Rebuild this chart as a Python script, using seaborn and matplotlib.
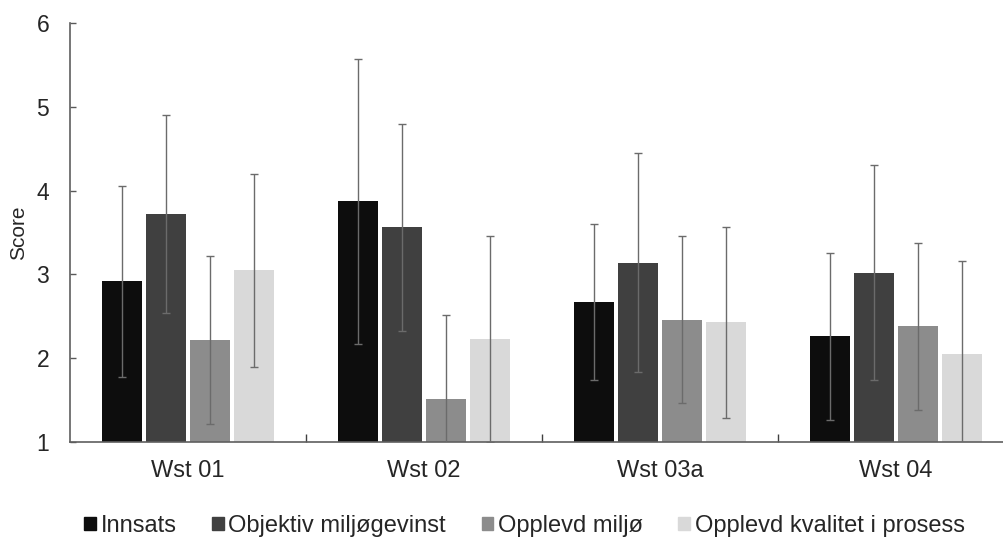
import matplotlib
matplotlib.use("Agg")
import matplotlib.pyplot as plt
import matplotlib.patches as mpatches
import numpy as np
import pandas as pd
import seaborn as sns

# Mean score and standard deviation per workshop and dimension
categories = ["Wst 01", "Wst 02", "Wst 03a", "Wst 04"]
series = ["Innsats", "Objektiv miljøgevinst", "Opplevd miljø", "Opplevd kvalitet i prosess"]

innsats = [2.92, 3.87, 2.67, 2.26]
innsats_sd = [1.14, 1.70, 0.93, 1.00]
objektiv = [3.72, 3.56, 3.14, 3.02]
objektiv_sd = [1.18, 1.24, 1.31, 1.28]
miljo = [2.22, 1.51, 2.46, 2.38]
miljo_sd = [1.00, 1.00, 1.00, 1.00]
kvalitet = [3.05, 2.23, 2.43, 2.05]
kvalitet_sd = [1.15, 1.23, 1.14, 1.11]

yticks = [1, 2, 3, 4, 5, 6]
colors = ["#0d0d0d", "#404040", "#8c8c8c", "#d9d9d9"]

means = [innsats, objektiv, miljo, kvalitet]
sds = [innsats_sd, objektiv_sd, miljo_sd, kvalitet_sd]

rows = []
for name, m, s in zip(series, means, sds):
    for cat, mv, sv in zip(categories, m, s):
        rows.append({"Workshop": cat, "Dimensjon": name, "Score": mv, "SD": sv})
df = pd.DataFrame(rows)

sns.set_style("white")
plt.rcParams["font.family"] = ["Liberation Sans", "DejaVu Sans"]

fig = plt.figure(figsize=(10.04, 5.38), dpi=100)
ax = fig.add_axes([70 / 1004, 96 / 538, 944 / 1004, 419 / 538])

sns.barplot(
    data=df, x="Workshop", y="Score", hue="Dimensjon",
    order=categories, hue_order=series, palette=colors,
    width=0.746, gap=0.09, errorbar=None, linewidth=0, ax=ax,
)

# Error bars (± one standard deviation) centred on each bar
err_color = "#6b6b6b"
bar_containers = list(ax.containers)
for h_idx, cont in enumerate(bar_containers):
    for patch in cont.patches:
        xc = patch.get_x() + patch.get_width() / 2
        c_idx = int(round(xc))
        ax.errorbar(xc, means[h_idx][c_idx], yerr=sds[h_idx][c_idx],
                    fmt="none", ecolor=err_color, elinewidth=1.0,
                    capsize=2.9, capthick=1.0, zorder=3)

ax.set_ylim(1, 6)
ax.set_xlim(-0.5, len(categories) - 0.5)
ax.set_yticks(yticks)
ax.set_yticklabels([str(t) for t in yticks])
ax.set_xlabel("")
ax.set_ylabel("Score", fontsize=15, labelpad=6)

ax.tick_params(axis="y", direction="in", length=4.3, width=1, color="#595959",
               labelsize=16.5, pad=15, left=True)
ax.tick_params(axis="x", which="major", length=0, labelsize=17, pad=13)
ax.set_xticks(np.arange(0.5, len(categories) - 0.5, 1.0), minor=True)
ax.tick_params(axis="x", which="minor", direction="in", length=5.8, width=1,
               color="#404040", bottom=True)

for side in ["top", "right"]:
    ax.spines[side].set_visible(False)
for side in ["left", "bottom"]:
    ax.spines[side].set_color("#5f5f5f")
    ax.spines[side].set_linewidth(1.2)

leg = ax.get_legend()
if leg is not None:
    leg.remove()
handles = [mpatches.Patch(color=c, label=s) for c, s in zip(colors, series)]
fig.legend(handles=handles, loc="center", bbox_to_anchor=(524.5 / 1004, 12 / 538),
           ncol=4, frameon=False, fontsize=17, handlelength=0.5, handleheight=0.5,
           handletextpad=0.2, columnspacing=1.5, borderaxespad=0)

fig.savefig("out.png", dpi=100, facecolor="white")
